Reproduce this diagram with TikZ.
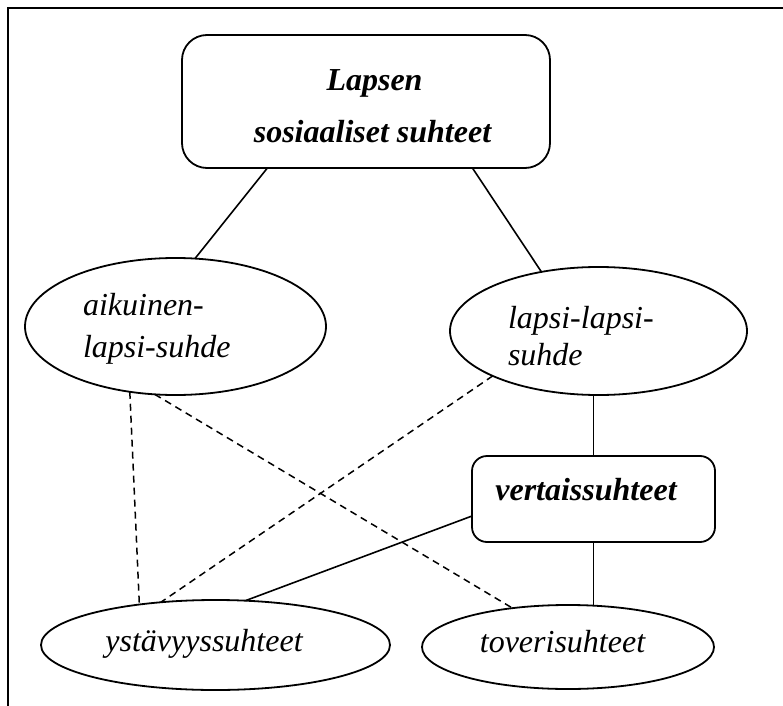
\documentclass[tikz,border=0pt]{standalone}
\usepackage{fontspec}
\setmainfont{Liberation Serif}
\usetikzlibrary{shapes.geometric}
\begin{document}
\begin{tikzpicture}[x=1bp,y=-1bp,
 shapeline/.style={draw=black, line width=1.8bp},
 ell/.style={shapeline, ellipse, inner sep=0pt, outer sep=0pt},
 rbox/.style={shapeline, rectangle, inner sep=0pt, outer sep=0pt},
 txt/.style={inner sep=0pt, outer sep=0pt, font=\fontsize{32bp}{38bp}\selectfont\itshape},
 btxt/.style={inner sep=0pt, outer sep=0pt, font=\fontsize{32bp}{38bp}\selectfont\bfseries\itshape},
 link/.style={line width=1.6bp},
 dlink/.style={line width=1.5bp, dash pattern=on 7bp off 5bp}]
\useasboundingbox (0,0) rectangle (783,706);
\draw[line width=2bp] (7.5,706) -- (7.5,8.5) -- (783,8.5);

\node[rbox, rounded corners=25bp, minimum width=368bp, minimum height=133bp] (top) at (366,101.5) {};
\node[btxt, anchor=base] (topA) at (374.5,91) {Lapsen};
\node[btxt, anchor=base] (topB) at (372.5,143) {sosiaaliset suhteet};

\node[ell, minimum width=301bp, minimum height=137bp] (aik) at (175.5,326.5) {};
\node[txt, anchor=base west] (aikA) at (83,315) {aikuinen-};
\node[txt, anchor=base west] (aikB) at (83,357) {lapsi-suhde};

\node[ell, minimum width=297bp, minimum height=128bp] (lap) at (598.5,331) {};
\node[txt, anchor=base west] (lapA) at (508,328) {lapsi-lapsi-};
\node[txt, anchor=base west] (lapB) at (508,365) {suhde};

\node[rbox, rounded corners=15bp, minimum width=243bp, minimum height=86bp] (vert) at (593.5,499) {};
\node[btxt, anchor=base] (vertT) at (586,500) {vertaissuhteet};

\node[ell, minimum width=349bp, minimum height=90bp] (yst) at (215.5,645) {};
\node[txt, anchor=base] (ystT) at (204,651) {ystävyyssuhteet};

\node[ell, minimum width=292bp, minimum height=84bp] (tov) at (568,647) {};
\node[txt, anchor=base] (tovT) at (562.5,652) {toverisuhteet};

\draw[link] (top.-146) -- (aik.74);
\draw[link] (top.-32) -- (lap.134);
\draw[link] (vert.north) -- (vert.north |- lap.south);
\draw[link] (vert.south) -- (vert.south |- tov.north);
\draw[link] ([yshift=-17bp]vert.west) -- (yst.56);

\draw[dlink] (aik.-125) -- (yst.152);
\draw[dlink] (aik.-107) -- (tov.145);
\draw[dlink] (lap.203) -- (yst.142);
\end{tikzpicture}
\end{document}
